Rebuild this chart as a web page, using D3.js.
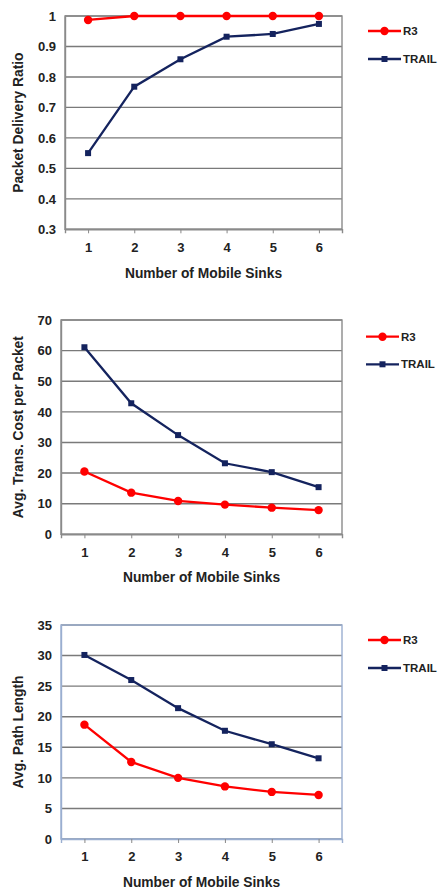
<!DOCTYPE html>
<html><head><meta charset="utf-8">
<script src="https://cdn.jsdelivr.net/npm/d3@7"></script>
<style>body{margin:0;background:#fff}svg{display:block}text{font-family:"Liberation Sans",Arial,sans-serif;font-weight:bold;fill:#222}</style>
</head><body><svg id="c" width="439" height="891"></svg>
<script>
const sinks = [1,2,3,4,5,6];
const seriesNames = ["R3","TRAIL"];
const pdrR3 = [0.987,1,1,1,1,1];
const pdrTRAIL = [0.55,0.768,0.858,0.932,0.941,0.974];
const pdrTicks = [0.3,0.4,0.5,0.6,0.7,0.8,0.9,1];
const costR3 = [20.5,13.6,10.9,9.7,8.7,7.9];
const costTRAIL = [61.1,42.8,32.4,23.2,20.3,15.4];
const costTicks = [0,10,20,30,40,50,60,70];
const pathR3 = [18.7,12.6,10.0,8.6,7.7,7.2];
const pathTRAIL = [30.1,26.0,21.4,17.7,15.5,13.2];
const pathTicks = [0,5,10,15,20,25,30,35];
const xTitle = "Number of Mobile Sinks";

const svg = d3.select("#c");
const RED = "#ff0000", NAVY = "#14235e";

function chart(cfg){
  const g = svg.append("g");
  const x = d3.scalePoint().domain(sinks).range([cfg.l, cfg.r]).padding(0.5);
  const y = d3.scaleLinear().domain(d3.extent(cfg.ticks)).range([cfg.b, cfg.t]);
  g.selectAll(".grid").data(cfg.ticks).join("line")
    .attr("x1", cfg.l).attr("x2", cfg.r)
    .attr("y1", d=>y(d)).attr("y2", d=>y(d))
    .attr("stroke", "#7a7a7a").attr("stroke-width", 1.4);
  g.append("rect").attr("x", cfg.l).attr("y", cfg.t).attr("width", cfg.r-cfg.l).attr("height", cfg.b-cfg.t)
    .attr("fill","none").attr("stroke", cfg.border).attr("stroke-width",1.4);
  const xa = g.append("g").attr("transform",`translate(0,${cfg.b})`)
    .call(d3.axisBottom(x).tickSize(4).tickPadding(9));
  xa.select(".domain").attr("stroke", cfg.border).attr("stroke-width",1.4);
  xa.selectAll(".tick line").attr("stroke","#888");
  xa.selectAll("text").attr("font-size",13).attr("fill","#222");
  const ya = g.append("g").attr("transform",`translate(${cfg.l},0)`)
    .call(d3.axisLeft(y).tickValues(cfg.ticks).tickSize(0).tickPadding(9).tickFormat(d3.format("~g")));
  ya.select(".domain").attr("stroke", cfg.border).attr("stroke-width",1.4);
  ya.selectAll("text").attr("font-size",13).attr("fill","#222");
  g.append("text").attr("x",(cfg.l+cfg.r)/2).attr("y",cfg.xt).attr("text-anchor","middle").attr("font-size",13.8).text(xTitle);
  g.append("text").attr("transform",`translate(23,${(cfg.t+cfg.b)/2}) rotate(-90)`).attr("text-anchor","middle").attr("font-size",13.8).text(cfg.yTitle);
  const line = d3.line().x((d,i)=>x(sinks[i])).y(d=>y(d));
  const data = [cfg.r3, cfg.trail];
  const cols = [RED, NAVY];
  data.forEach((vals,k)=>{
    g.append("path").attr("d", line(vals)).attr("fill","none").attr("stroke",cols[k]).attr("stroke-width",2.3);
    if(k===0){
      g.selectAll(".m"+k).data(vals).join("circle").attr("cx",(d,i)=>x(sinks[i])).attr("cy",d=>y(d)).attr("r",4.2).attr("fill",RED);
    } else {
      g.selectAll(".m"+k).data(vals).join("rect").attr("x",(d,i)=>x(sinks[i])-3).attr("y",d=>y(d)-3).attr("width",6).attr("height",6).attr("fill",NAVY);
    }
  });
  seriesNames.forEach((n,k)=>{
    const ly = cfg.ly + k*cfg.lgap;
    g.append("line").attr("x1",cfg.lx).attr("x2",cfg.lx+33).attr("y1",ly).attr("y2",ly).attr("stroke",cols[k]).attr("stroke-width",2.3);
    if(k===0) g.append("circle").attr("cx",cfg.lx+16.5).attr("cy",ly).attr("r",4.2).attr("fill",RED);
    else g.append("rect").attr("x",cfg.lx+13.5).attr("y",ly-3).attr("width",6).attr("height",6).attr("fill",NAVY);
    g.append("text").attr("x",cfg.lx+35).attr("y",ly).attr("dy","0.35em").attr("font-size",11.5).text(n);
  });
}

chart({l:65,r:342,t:16,b:229.3,ticks:pdrTicks,r3:pdrR3,trail:pdrTRAIL,yTitle:"Packet Delivery Ratio",xt:278,border:"#8a8a8a",lx:368,ly:31,lgap:28});
chart({l:61,r:342,t:320,b:534.3,ticks:costTicks,r3:costR3,trail:costTRAIL,yTitle:"Avg. Trans. Cost per Packet",xt:582,border:"#8a8a8a",lx:366,ly:336.7,lgap:27.6});
chart({l:61,r:342,t:625,b:839,ticks:pathTicks,r3:pathR3,trail:pathTRAIL,yTitle:"Avg. Path Length",xt:887,border:"#9aaed0",lx:368,ly:640,lgap:28});
</script></body></html>
